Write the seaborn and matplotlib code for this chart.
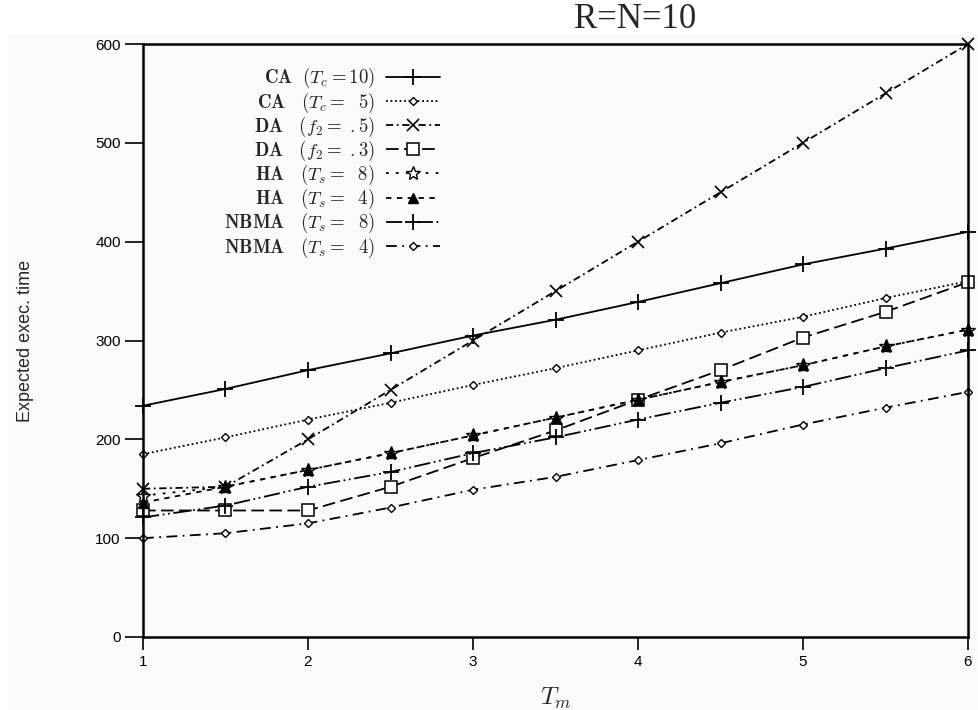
import matplotlib
matplotlib.use("Agg")
import matplotlib.pyplot as plt
import seaborn as sns
import pandas as pd

# ---- data -------------------------------------------------------------
t_m = [1, 1.5, 2, 2.5, 3, 3.5, 4, 4.5, 5, 5.5, 6]
ca_t10 = [234, 251, 270, 287, 305, 321, 339, 358, 377, 393, 410]
ca_t5 = [185, 202, 220, 237, 255, 272, 290, 308, 324, 343, 360]
da_f5 = [150, 152, 200, 250, 300, 350, 400, 450, 500, 550, 600]
da_f3 = [128, 128, 128, 152, 181, 209, 240, 270, 303, 329, 359]
ha_t8 = [143, 152, 169, 186, 204, 222, 240, 258, 275, 294, 311]
ha_t4 = [136, 152, 169, 186, 204, 222, 240, 258, 275, 294, 311]
nbma_t8 = [121, 133, 152, 167, 186, 202, 220, 237, 253, 272, 290]
nbma_t4 = [100, 105, 115, 131, 149, 162, 179, 196, 215, 232, 248]

labels = [r"$\mathbf{CA}\ \ (T_c = 10)$", r"$\mathbf{CA}\ \ \ (T_c =\ \ 5)$",
          r"$\mathbf{DA}\ \ \ (f_2 =\ .5)$", r"$\mathbf{DA}\ \ \ (f_2 =\ .3)$",
          r"$\mathbf{HA}\ \ \ (T_s =\ \ 8)$", r"$\mathbf{HA}\ \ \ (T_s =\ \ 4)$",
          r"$\mathbf{NBMA}\ \ \ (T_s =\ \ 8)$", r"$\mathbf{NBMA}\ \ \ (T_s =\ \ 4)$"]
series = [ca_t10, ca_t5, da_f5, da_f3, ha_t8, ha_t4, nbma_t8, nbma_t4]
y_ticks = [0, 100, 200, 300, 400, 500, 600]
x_ticks = [1, 2, 3, 4, 5, 6]

# ---- style ------------------------------------------------------------
sns.set_style("ticks")
plt.rcParams["font.family"] = ["Liberation Sans", "DejaVu Sans"]
plt.rcParams["mathtext.fontset"] = "cm"

styles = [
    dict(marker="+", ms=12, mew=1.3, ls="-"),
    dict(marker="D", ms=4.5, mew=1.0, mfc="white", ls=(0, (1, 1.5))),
    dict(marker="x", ms=9, mew=1.2, ls=(0, (4, 2, 1, 2))),
    dict(marker="s", ms=8, mew=1.1, mfc="white", ls=(0, (7, 3))),
    dict(marker="*", ms=10, mew=1.0, mfc="white", ls=(0, (1.5, 4))),
    dict(marker="^", ms=7, mew=1.0, ls=(0, (3, 3))),
    dict(marker="+", ms=12, mew=1.3, ls=(0, (9, 2, 1, 2, 1, 2))),
    dict(marker="D", ms=4.5, mew=1.0, mfc="white", ls=(0, (6, 3, 1, 3))),
]

fig = plt.figure(figsize=(9.79, 7.10), dpi=100)
fig.patch.set_facecolor("white")
bg = plt.Rectangle((8 / 979, 0), 1, 1 - 35 / 710, transform=fig.transFigure,
                   facecolor="#fafafa", edgecolor="none", zorder=-10)
fig.patches.append(bg)

ax = fig.add_axes([143 / 979, 1 - 637 / 710, (968 - 143) / 979, (637 - 44) / 710])
ax.set_facecolor("#fafafa")

for lab, vals, st in zip(labels, series, styles):
    df = pd.DataFrame({"t": t_m, "v": vals})
    st = dict(st)
    ls = st.pop("ls")
    sns.lineplot(data=df, x="t", y="v", ax=ax, color="black", linewidth=1.3,
                 linestyle=ls, label=lab, mec="black", clip_on=False, **st)

ax.set_xlim(1, 6)
ax.set_ylim(0, 600)
ax.set_xticks(x_ticks)
ax.set_xticklabels([str(v) for v in x_ticks])
ax.set_yticks(y_ticks)
ax.set_yticklabels([str(v) for v in y_ticks])
ax.tick_params(direction="out", length=13, width=1.2, labelsize=11, colors="black", pad=3)
ax.tick_params(axis="x", length=9, pad=4)
for sp in ax.spines.values():
    sp.set_visible(True)
    sp.set_linewidth(1.8)
    sp.set_color("black")

ax.set_ylabel("Expected exec. time", fontsize=13, labelpad=44)
ax.set_xlabel(r"$T_m$", fontsize=18, labelpad=12)

fig.text(635 / 979, 1 - 20 / 710, "R=N=10", ha="center", va="center",
         fontsize=25, family="Liberation Serif")

leg = ax.legend(loc="upper right", bbox_to_anchor=((448 - 143) / 825, 0.975),
                frameon=False, markerfirst=False, handlelength=2.9,
                handletextpad=0.6, labelspacing=0.0, borderaxespad=0,
                prop={"size": 13.5})

fig.savefig("out.png", dpi=100, facecolor=fig.get_facecolor())
